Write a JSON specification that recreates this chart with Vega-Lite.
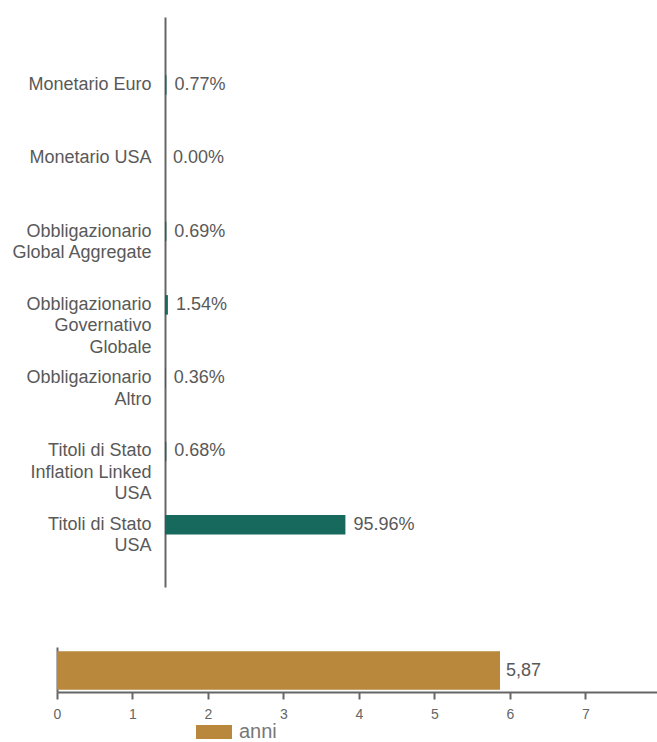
{
  "$schema": "https://vega.github.io/schema/vega-lite/v6.json",
  "padding": {"left": 5, "top": 17, "right": 0, "bottom": 0},
  "spacing": 60,
  "resolve": {"legend": {"color": "independent"}, "scale": {"color": "independent"}},
  "config": {"view": {"stroke": null}, "font": "Liberation Sans"},
  "vconcat": [
    {
      "width": 296,
      "height": 570,
      "data": {"values": [
        {"categoria": "Monetario Euro", "quota": 0.0077},
        {"categoria": "Monetario USA", "quota": 0.0},
        {"categoria": "Obbligazionario\nGlobal Aggregate", "quota": 0.0069},
        {"categoria": "Obbligazionario\nGovernativo\nGlobale", "quota": 0.0154},
        {"categoria": "Obbligazionario\nAltro", "quota": 0.0036},
        {"categoria": "Titoli di Stato\nInflation Linked\nUSA", "quota": 0.0068},
        {"categoria": "Titoli di Stato\nUSA", "quota": 0.9596}
      ]},
      "encoding": {
        "y": {
          "field": "categoria", "type": "nominal", "sort": null,
          "scale": {"paddingInner": 0, "paddingOuter": 0.39, "align": 0.55},
          "axis": {
            "title": null, "ticks": false, "labelPadding": 14, "labelFontSize": 18,
            "labelColor": "#595959", "labelLimit": 300, "labelLineHeight": 21.5,
            "labelExpr": "split(datum.label, '\\n')", "offset": -108,
            "domainColor": "#666666", "domainWidth": 2, "minExtent": 160
          }
        },
        "x": {"field": "quota", "type": "quantitative", "scale": {"domain": [-0.5745, 1.0], "nice": false, "zero": false}, "axis": null}
      },
      "layer": [
        {"mark": {"type": "bar", "size": 19.5, "color": "#17695E"}},
        {
          "mark": {"type": "text", "align": "left", "baseline": "middle", "dx": 8, "fontSize": 18, "color": "#595959"},
          "encoding": {"text": {"field": "quota", "type": "quantitative", "format": ".2%"}}
        }
      ]
    },
    {
      "width": 600,
      "height": 45,
      "data": {"values": [{"serie": "anni", "durata": 5.87, "etichetta": "5,87"}]},
      "encoding": {
        "y": {
          "field": "serie", "type": "nominal",
          "axis": {"title": null, "labels": false, "ticks": false, "domainColor": "#666666", "domainWidth": 2, "minExtent": 52}
        },
        "x": {
          "field": "durata", "type": "quantitative",
          "scale": {"domain": [0, 7.95], "nice": false},
          "axis": {
            "values": [0, 1, 2, 3, 4, 5, 6, 7], "title": null, "grid": false,
            "domainColor": "#666666", "domainWidth": 2, "tickColor": "#666666", "tickWidth": 2, "tickSize": 7,
            "labelFontSize": 14, "labelColor": "#666666", "labelPadding": 8, "labelFlush": false
          }
        }
      },
      "layer": [
        {
          "mark": {"type": "bar", "size": 38.5, "yOffset": 1},
          "encoding": {
            "color": {
              "field": "serie", "type": "nominal",
              "scale": {"range": ["#B9883D"]},
              "legend": {
                "title": null, "orient": "none", "legendX": 147, "legendY": 75, "padding": 0,
                "symbolType": "M-2.571,-1H2.571V1H-2.571Z", "symbolSize": 196, "symbolStrokeWidth": 0,
                "labelFontSize": 20, "labelColor": "#777777", "labelOffset": 15,
                "encoding": {"symbols": {"update": {"fill": {"signal": "{gradient: 'linear', x1: 0, y1: 0, x2: 1, y2: 0, stops: [{offset: 0, color: '#B9883D'}, {offset: 1, color: '#DDBC88'}]}"}}}}
              }
            }
          }
        },
        {
          "mark": {"type": "text", "align": "left", "baseline": "middle", "dx": 6, "yOffset": 1, "fontSize": 18, "color": "#595959"},
          "encoding": {"text": {"field": "etichetta", "type": "nominal"}}
        }
      ]
    }
  ]
}
